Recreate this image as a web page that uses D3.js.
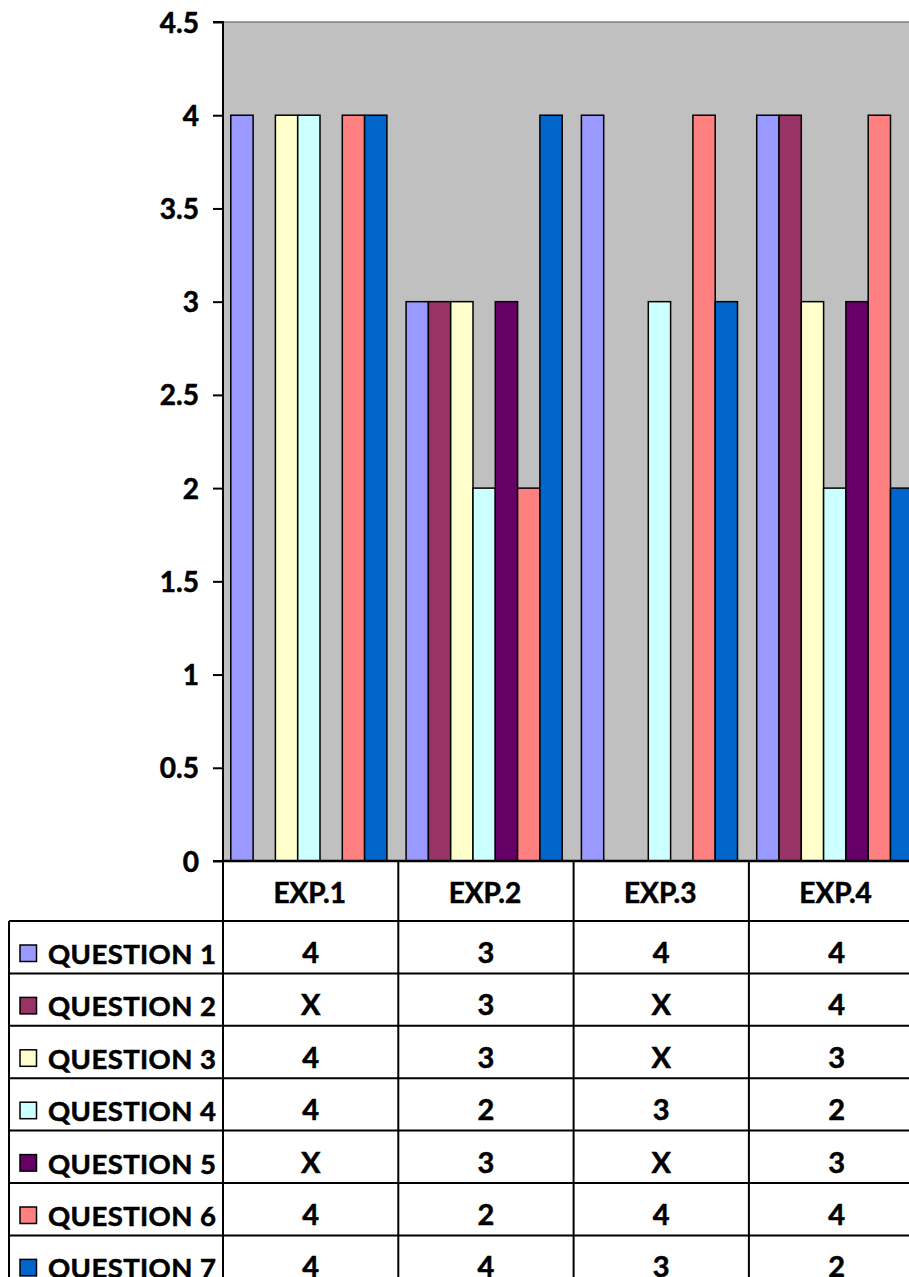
<!DOCTYPE html>
<html>
<head>
<meta charset="utf-8">
<script src="https://cdn.jsdelivr.net/npm/d3@7"></script>
<style>
  html, body { margin: 0; padding: 0; background: #fff; overflow: hidden; }
  svg { display: block; font-family: Lato, "Open Sans", sans-serif; font-weight: bold; }
  svg text { stroke: #000; stroke-width: 0.55px; fill: #000; }
</style>
</head>
<body>
<svg id="chart" width="909" height="1277"></svg>
<script>
// Experiments along the category axis
const categories = ["EXP.1", "EXP.2", "EXP.3", "EXP.4"];

// Question names, in legend / table order
const seriesNames = ["QUESTION 1", "QUESTION 2", "QUESTION 3", "QUESTION 4",
                     "QUESTION 5", "QUESTION 6", "QUESTION 7"];

// Scores per experiment (null = no answer, shown as "X")
const question1 = [4, 3, 4, 4];
const question2 = [null, 3, null, 4];
const question3 = [4, 3, null, 3];
const question4 = [4, 2, 3, 2];
const question5 = [null, 3, null, 3];
const question6 = [4, 2, 4, 4];
const question7 = [4, 4, 3, 2];

const seriesColors = ["#9999FF", "#993366", "#FFFFCC", "#CCFFFF",
                      "#660066", "#FF8080", "#0066CC"];

const yTicks = [0, 0.5, 1, 1.5, 2, 2.5, 3, 3.5, 4, 4.5];

const seriesValues = [question1, question2, question3, question4,
                      question5, question6, question7];

// Layout
const plotLeft = 223, plotTop = 22, plotBottom = 861;
const groupWidth = 175.3;
const plotRight = plotLeft + groupWidth * categories.length;
const headerHeight = 60, rowHeight = 52.4;
const tableLeft = 9;

const svg = d3.select("#chart");

const x0 = d3.scaleBand().domain(categories).range([plotLeft, plotRight]).padding(0);
const x1 = d3.scaleBand().domain(seriesNames).range([7.8, 7.8 + 7 * 22.3]).padding(0);
const y = d3.scaleLinear().domain([0, 4.5]).range([plotBottom, plotTop]);

// Plot area background
svg.append("rect")
  .attr("x", plotLeft).attr("y", plotTop)
  .attr("width", plotRight - plotLeft).attr("height", plotBottom - plotTop)
  .attr("fill", "#C0C0C0");
svg.append("line")
  .attr("x1", plotLeft).attr("x2", plotRight)
  .attr("y1", plotTop).attr("y2", plotTop)
  .attr("stroke", "#808080").attr("stroke-width", 1.5);

// Bars
const groups = svg.append("g").selectAll("g")
  .data(categories)
  .join("g")
  .attr("transform", d => `translate(${x0(d)},0)`);

groups.selectAll("rect")
  .data((c, ci) => seriesNames.map((s, si) => ({ s, si, v: seriesValues[si][ci] })))
  .join("rect")
  .filter(d => d.v !== null)
  .attr("x", d => x1(d.s))
  .attr("y", d => y(d.v))
  .attr("width", x1.bandwidth())
  .attr("height", d => y(0) - y(d.v))
  .attr("fill", d => seriesColors[d.si])
  .attr("stroke", "#000")
  .attr("stroke-width", 1.5);

// Value axis
const yAxis = d3.axisLeft(y).tickValues(yTicks).tickSize(10).tickPadding(14)
  .tickFormat(d3.format("~g"));
const yg = svg.append("g").attr("transform", `translate(${plotLeft},0)`).call(yAxis);
yg.select(".domain").attr("stroke", "#000").attr("stroke-width", 2)
  .attr("d", `M-10,${plotTop}H0V${plotBottom}H-10`);
yg.selectAll(".tick line").attr("stroke", "#000").attr("stroke-width", 2);
yg.selectAll(".tick text")
  .attr("font-family", "Lato, 'Open Sans', sans-serif")
  .attr("font-weight", "bold")
  .attr("font-size", 28)
  .attr("dy", "0.36em");

// Category axis line
svg.append("line")
  .attr("x1", plotLeft).attr("x2", plotRight)
  .attr("y1", plotBottom).attr("y2", plotBottom)
  .attr("stroke", "#000").attr("stroke-width", 2.5);

// Data table
const table = svg.append("g");
const tableBottom = plotBottom + headerHeight + rowHeight * seriesNames.length;
const rowTop = i => plotBottom + headerHeight + i * rowHeight;

// vertical lines
categories.forEach(c => {
  table.append("line")
    .attr("x1", x0(c)).attr("x2", x0(c))
    .attr("y1", plotBottom).attr("y2", tableBottom)
    .attr("stroke", "#000").attr("stroke-width", 2);
});
table.append("line")
  .attr("x1", plotRight).attr("x2", plotRight)
  .attr("y1", plotBottom).attr("y2", tableBottom)
  .attr("stroke", "#000").attr("stroke-width", 2);
table.append("line")
  .attr("x1", tableLeft).attr("x2", tableLeft)
  .attr("y1", rowTop(0)).attr("y2", tableBottom)
  .attr("stroke", "#000").attr("stroke-width", 2);

// horizontal lines
d3.range(seriesNames.length + 1).forEach(i => {
  table.append("line")
    .attr("x1", tableLeft).attr("x2", plotRight)
    .attr("y1", rowTop(i)).attr("y2", rowTop(i))
    .attr("stroke", "#000").attr("stroke-width", 2);
});

// header labels
table.selectAll(".hdr")
  .data(categories)
  .join("text")
  .attr("class", "hdr")
  .attr("x", d => x0(d) + x0.bandwidth() / 2 - 1)
  .attr("y", plotBottom + 42)
  .attr("text-anchor", "middle")
  .attr("font-size", 28)
  .text(d => d);

// rows: legend key + values
seriesNames.forEach((s, si) => {
  const top = rowTop(si);
  table.append("rect")
    .attr("x", 20).attr("y", top + 24)
    .attr("width", 16.5).attr("height", 16.5)
    .attr("fill", seriesColors[si])
    .attr("stroke", "#000").attr("stroke-width", 1.5);
  table.append("text")
    .attr("x", 48).attr("y", top + 43)
    .attr("font-size", 27.5)
    .attr("letter-spacing", 0.4)
    .text(s);
  table.selectAll(null)
    .data(categories)
    .join("text")
    .attr("x", (c) => x0(c) + x0.bandwidth() / 2)
    .attr("y", top + 42)
    .attr("text-anchor", "middle")
    .attr("font-size", 29)
    .text((c, ci) => seriesValues[si][ci] === null ? "X" : seriesValues[si][ci]);
});
</script>
</body>
</html>
